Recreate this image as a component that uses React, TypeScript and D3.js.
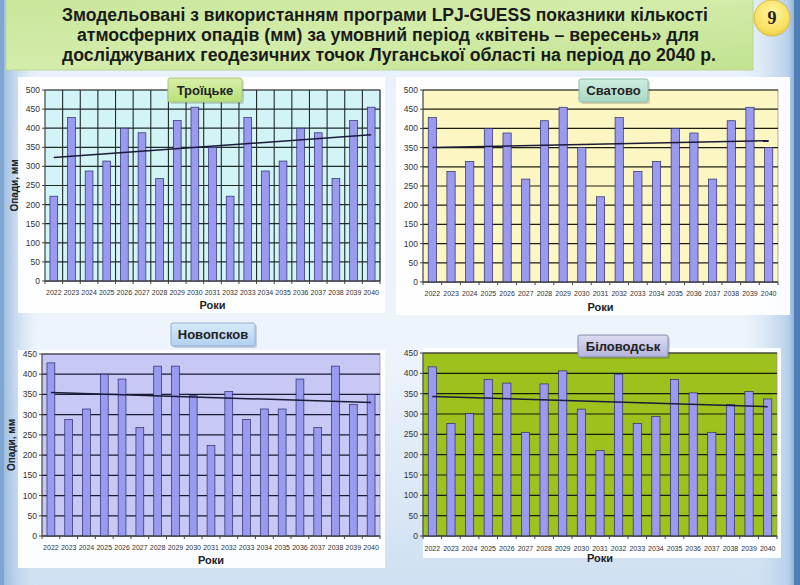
import React from "react";
import * as d3 from "d3";

const years = ["2022","2023","2024","2025","2026","2027","2028","2029","2030","2031","2032","2033","2034","2035","2036","2037","2038","2039","2040"];

const troitskeValues = [222,428,288,314,400,388,268,420,455,350,222,428,288,314,400,388,268,420,455];
const svatoveValues = [428,288,314,400,388,268,420,455,350,222,428,288,314,400,388,268,420,455,350];
const novopskovValues = [428,288,314,400,388,268,420,420,347,224,357,288,314,314,388,268,420,325,350];
const bilovodskValues = [416,277,301,385,376,255,374,406,312,210,398,277,294,385,352,255,323,355,337];

// trend line endpoints (first year, last year)
const troitskeTrend = [323, 383];
const svatoveTrend = [350, 368];
const novopskovTrend = [355, 330];
const bilovodskTrend = [343, 318];

const ticks500 = [0,50,100,150,200,250,300,350,400,450,500];
const ticks450 = [0,50,100,150,200,250,300,350,400,450];

const titleLines = [
  "Змодельовані з використанням програми LPJ-GUESS показники кількості",
  "атмосферних опадів (мм) за умовний період «квітень – вересень» для",
  "досліджуваних геодезичних точок Луганської області на період до 2040 р.",
];

const panelNames = ["Троїцьке", "Сватово", "Новопсков", "Біловодськ"];
const yAxisTitle = "Опади, мм";
const xAxisTitle = "Роки";

type Panel = {
  name: string;
  values: number[];
  trend: number[];
  ticks: number[];
  white: [number, number, number, number];
  plot: [number, number, number, number];
  bg: string;
  vgrid: boolean;
  ylabel: boolean;
  box: [number, number, number, number];
  boxFill: [string, string];
  boxStroke: string;
  tickY: number;
  xTitleY: number;
  gridColor: string;
};

const NARROW = "'Liberation Sans Narrow', 'Liberation Sans', Arial, sans-serif";
const SANS = "'Liberation Sans', Arial, sans-serif";

function ChartPanel({ p, id }: { p: Panel; id: string }) {
  const [x0, y0, x1, y1] = p.plot;
  const x = d3.scaleBand<string>().domain(years).range([x0, x1]).paddingInner(0.56).paddingOuter(0.28);
  const y = d3.scaleLinear().domain([0, p.ticks[p.ticks.length - 1]]).range([y1, y0]);
  const step = (x1 - x0) / years.length;
  const trendLine = d3.line<[number, number]>().x((d) => d[0]).y((d) => d[1]);
  const tPts: [number, number][] = [
    [x(years[0])! + x.bandwidth() / 2, y(p.trend[0])],
    [x(years[years.length - 1])! + x.bandwidth() / 2, y(p.trend[1])],
  ];
  const [bx0, by0, bx1, by1] = p.box;
  const [wx0, wy0, wx1, wy1] = p.white;
  return (
    <g>
      <defs>
        <linearGradient id={`box-${id}`} x1="0" y1="0" x2="0" y2="1">
          <stop offset="0" stopColor={p.boxFill[0]} />
          <stop offset="1" stopColor={p.boxFill[1]} />
        </linearGradient>
      </defs>
      <rect x={wx0} y={wy0} width={wx1 - wx0} height={wy1 - wy0} fill="#ffffff" opacity={0.92} />
      <rect x={x0} y={y0} width={x1 - x0} height={y1 - y0} fill={p.bg} stroke="#9a9a9a" strokeWidth={0.8} />
      {p.ticks.map((t) => (
        <line key={`h${t}`} x1={x0} x2={x1} y1={y(t)} y2={y(t)} stroke={p.gridColor} strokeWidth={1.2} />
      ))}
      {p.vgrid &&
        years.map((yr, i) => (
          <line key={`v${yr}`} x1={x0 + (i + 1) * step} x2={x0 + (i + 1) * step} y1={y0} y2={y1} stroke={p.gridColor} strokeWidth={1.1} />
        ))}
      {p.values.map((v, i) => (
        <rect
          key={`b${i}`}
          x={x(years[i])!}
          y={y(v)}
          width={x.bandwidth()}
          height={y1 - y(v)}
          fill="#9a9af0"
          stroke="#2a2a6a"
          strokeWidth={0.7}
        />
      ))}
      <path d={trendLine(tPts)!} stroke="#1a1a3a" strokeWidth={1.5} fill="none" />
      <line x1={x0} x2={x0} y1={y0} y2={y1} stroke="#444" strokeWidth={1} />
      <line x1={x0} x2={x1} y1={y1} y2={y1} stroke="#444" strokeWidth={1} />
      {p.ticks.map((t) => (
        <g key={`yt${t}`}>
          <line x1={x0 - 3} x2={x0} y1={y(t)} y2={y(t)} stroke="#444" />
          <text x={x0 - 5} y={y(t)} dy="0.35em" textAnchor="end" fontSize={8.5} fontFamily={NARROW} fill="#333">
            {t}
          </text>
        </g>
      ))}
      {years.map((yr, i) => (
        <g key={`xt${yr}`}>
          <line x1={x0 + i * step} x2={x0 + i * step} y1={y1} y2={y1 + 3} stroke="#444" />
          <text x={x(yr)! + x.bandwidth() / 2} y={p.tickY} textAnchor="middle" fontSize={7} fontFamily={NARROW} fill="#333">
            {yr}
          </text>
        </g>
      ))}
      <line x1={x1} x2={x1} y1={y1} y2={y1 + 3} stroke="#444" />
      <text x={(x0 + x1) / 2} y={p.xTitleY} textAnchor="middle" fontSize={11} fontWeight="bold" fontFamily={SANS} fill="#222">
        {xAxisTitle}
      </text>
      {p.ylabel && (
        <text
          transform={`translate(${x0 - 27},${(y0 + y1) / 2}) rotate(-90)`}
          textAnchor="middle"
          fontSize={10}
          fontWeight="bold"
          fontFamily={SANS}
          fill="#222"
        >
          {yAxisTitle}
        </text>
      )}
      <rect x={bx0 + 2} y={by0 + 2} width={bx1 - bx0} height={by1 - by0} rx={2} fill="#000" opacity={0.15} />
      <rect x={bx0} y={by0} width={bx1 - bx0} height={by1 - by0} rx={2} fill={`url(#box-${id})`} stroke={p.boxStroke} strokeWidth={1} />
      <text x={(bx0 + bx1) / 2} y={(by0 + by1) / 2} dy="0.36em" textAnchor="middle" fontSize={13} fontWeight="bold" fontFamily={SANS} fill="#222">
        {p.name}
      </text>
    </g>
  );
}

export default function App() {
  const panels: Panel[] = [
    {
      name: panelNames[0], values: troitskeValues, trend: troitskeTrend, ticks: ticks500,
      white: [18, 77, 385, 313], plot: [45, 90, 380, 281], bg: "#d2f4f6", vgrid: true, ylabel: true,
      box: [168, 78, 242, 102], boxFill: ["#d8f0a8", "#b8e078"], boxStroke: "#a8c880", tickY: 295, xTitleY: 309,
      gridColor: "#1e2a28",
    },
    {
      name: panelNames[1], values: svatoveValues, trend: svatoveTrend, ticks: ticks500,
      white: [396, 77, 790, 315], plot: [423, 90, 778, 282], bg: "#fcf7c2", vgrid: false, ylabel: false,
      box: [579, 79, 648, 102], boxFill: ["#cdeee0", "#a8d8c4"], boxStroke: "#8cbcaa", tickY: 296, xTitleY: 311,
      gridColor: "#1e1e10",
    },
    {
      name: panelNames[2], values: novopskovValues, trend: novopskovTrend, ticks: ticks450,
      white: [18, 350, 385, 568], plot: [42, 354, 380, 536], bg: "#c8c8f4", vgrid: false, ylabel: true,
      box: [171, 323, 255, 346], boxFill: ["#d8eafa", "#b0d0f0"], boxStroke: "#90b0d8", tickY: 550, xTitleY: 564,
      gridColor: "#1a1a30",
    },
    {
      name: panelNames[3], values: bilovodskValues, trend: bilovodskTrend, ticks: ticks450,
      white: [423, 348, 781, 558], plot: [423, 353, 777, 536], bg: "#9dc21e", vgrid: false, ylabel: false,
      box: [578, 335, 668, 357], boxFill: ["#dcdcf4", "#b4b4dc"], boxStroke: "#8888b0", tickY: 551, xTitleY: 562,
      gridColor: "#141e08",
    },
  ];

  return (
    <svg width={800} height={585} style={{ position: "absolute", left: 0, top: 0 }}>
      <defs>
        <linearGradient id="slideBg" x1="0" y1="0" x2="0" y2="1">
          <stop offset="0" stopColor="#e8f1fa" />
          <stop offset="0.6" stopColor="#eef4fb" />
          <stop offset="1" stopColor="#cfe0f2" />
        </linearGradient>
        <linearGradient id="sideL" x1="0" y1="0" x2="1" y2="0">
          <stop offset="0" stopColor="#8fb4dc" />
          <stop offset="1" stopColor="#dce9f6" stopOpacity={0} />
        </linearGradient>
        <linearGradient id="sideR" x1="1" y1="0" x2="0" y2="0">
          <stop offset="0" stopColor="#6d98c8" />
          <stop offset="0.2" stopColor="#b8d0ea" />
          <stop offset="1" stopColor="#dce9f6" stopOpacity={0} />
        </linearGradient>
        <linearGradient id="banner" x1="0" y1="0" x2="1" y2="1">
          <stop offset="0" stopColor="#c9e69a" />
          <stop offset="0.5" stopColor="#d3ecaa" />
          <stop offset="1" stopColor="#c2e290" />
        </linearGradient>
        <radialGradient id="badge" cx="0.5" cy="0.35" r="0.7">
          <stop offset="0" stopColor="#fff6a0" />
          <stop offset="0.7" stopColor="#f8e060" />
          <stop offset="1" stopColor="#e8c840" />
        </radialGradient>
      </defs>
      <rect x={0} y={0} width={800} height={585} fill="url(#slideBg)" />
      <rect x={0} y={0} width={40} height={585} fill="url(#sideL)" />
      <rect x={740} y={0} width={60} height={585} fill="url(#sideR)" />
      <rect x={0} y={0} width={4} height={585} fill="#7fa6d2" />
      <rect x={794} y={0} width={6} height={585} fill="#4f7fb6" />

      <rect x={6} y={-4} width={747} height={74} fill="url(#banner)" stroke="#b8d890" strokeWidth={1} />
      {titleLines.map((t, i) => (
        <text
          key={i}
          x={[385, 388, 389][i]}
          y={21 + i * 20}
          textAnchor="middle"
          fontSize={18}
          fontWeight="bold"
          fontFamily={NARROW}
          fill="#1a1a1a"
          textLength={[646, 622, 654][i]}
          lengthAdjust="spacingAndGlyphs"
        >
          {t}
        </text>
      ))}
      <circle cx={772} cy={18} r={18} fill="url(#badge)" stroke="#d8b848" strokeWidth={1} />
      <text x={772} y={18} dy="0.36em" textAnchor="middle" fontSize={18} fontWeight="bold" fontFamily="'Liberation Serif', serif" fill="#222">
        9
      </text>

      {panels.map((p, i) => (
        <ChartPanel key={i} p={p} id={`p${i}`} />
      ))}
    </svg>
  );
}
